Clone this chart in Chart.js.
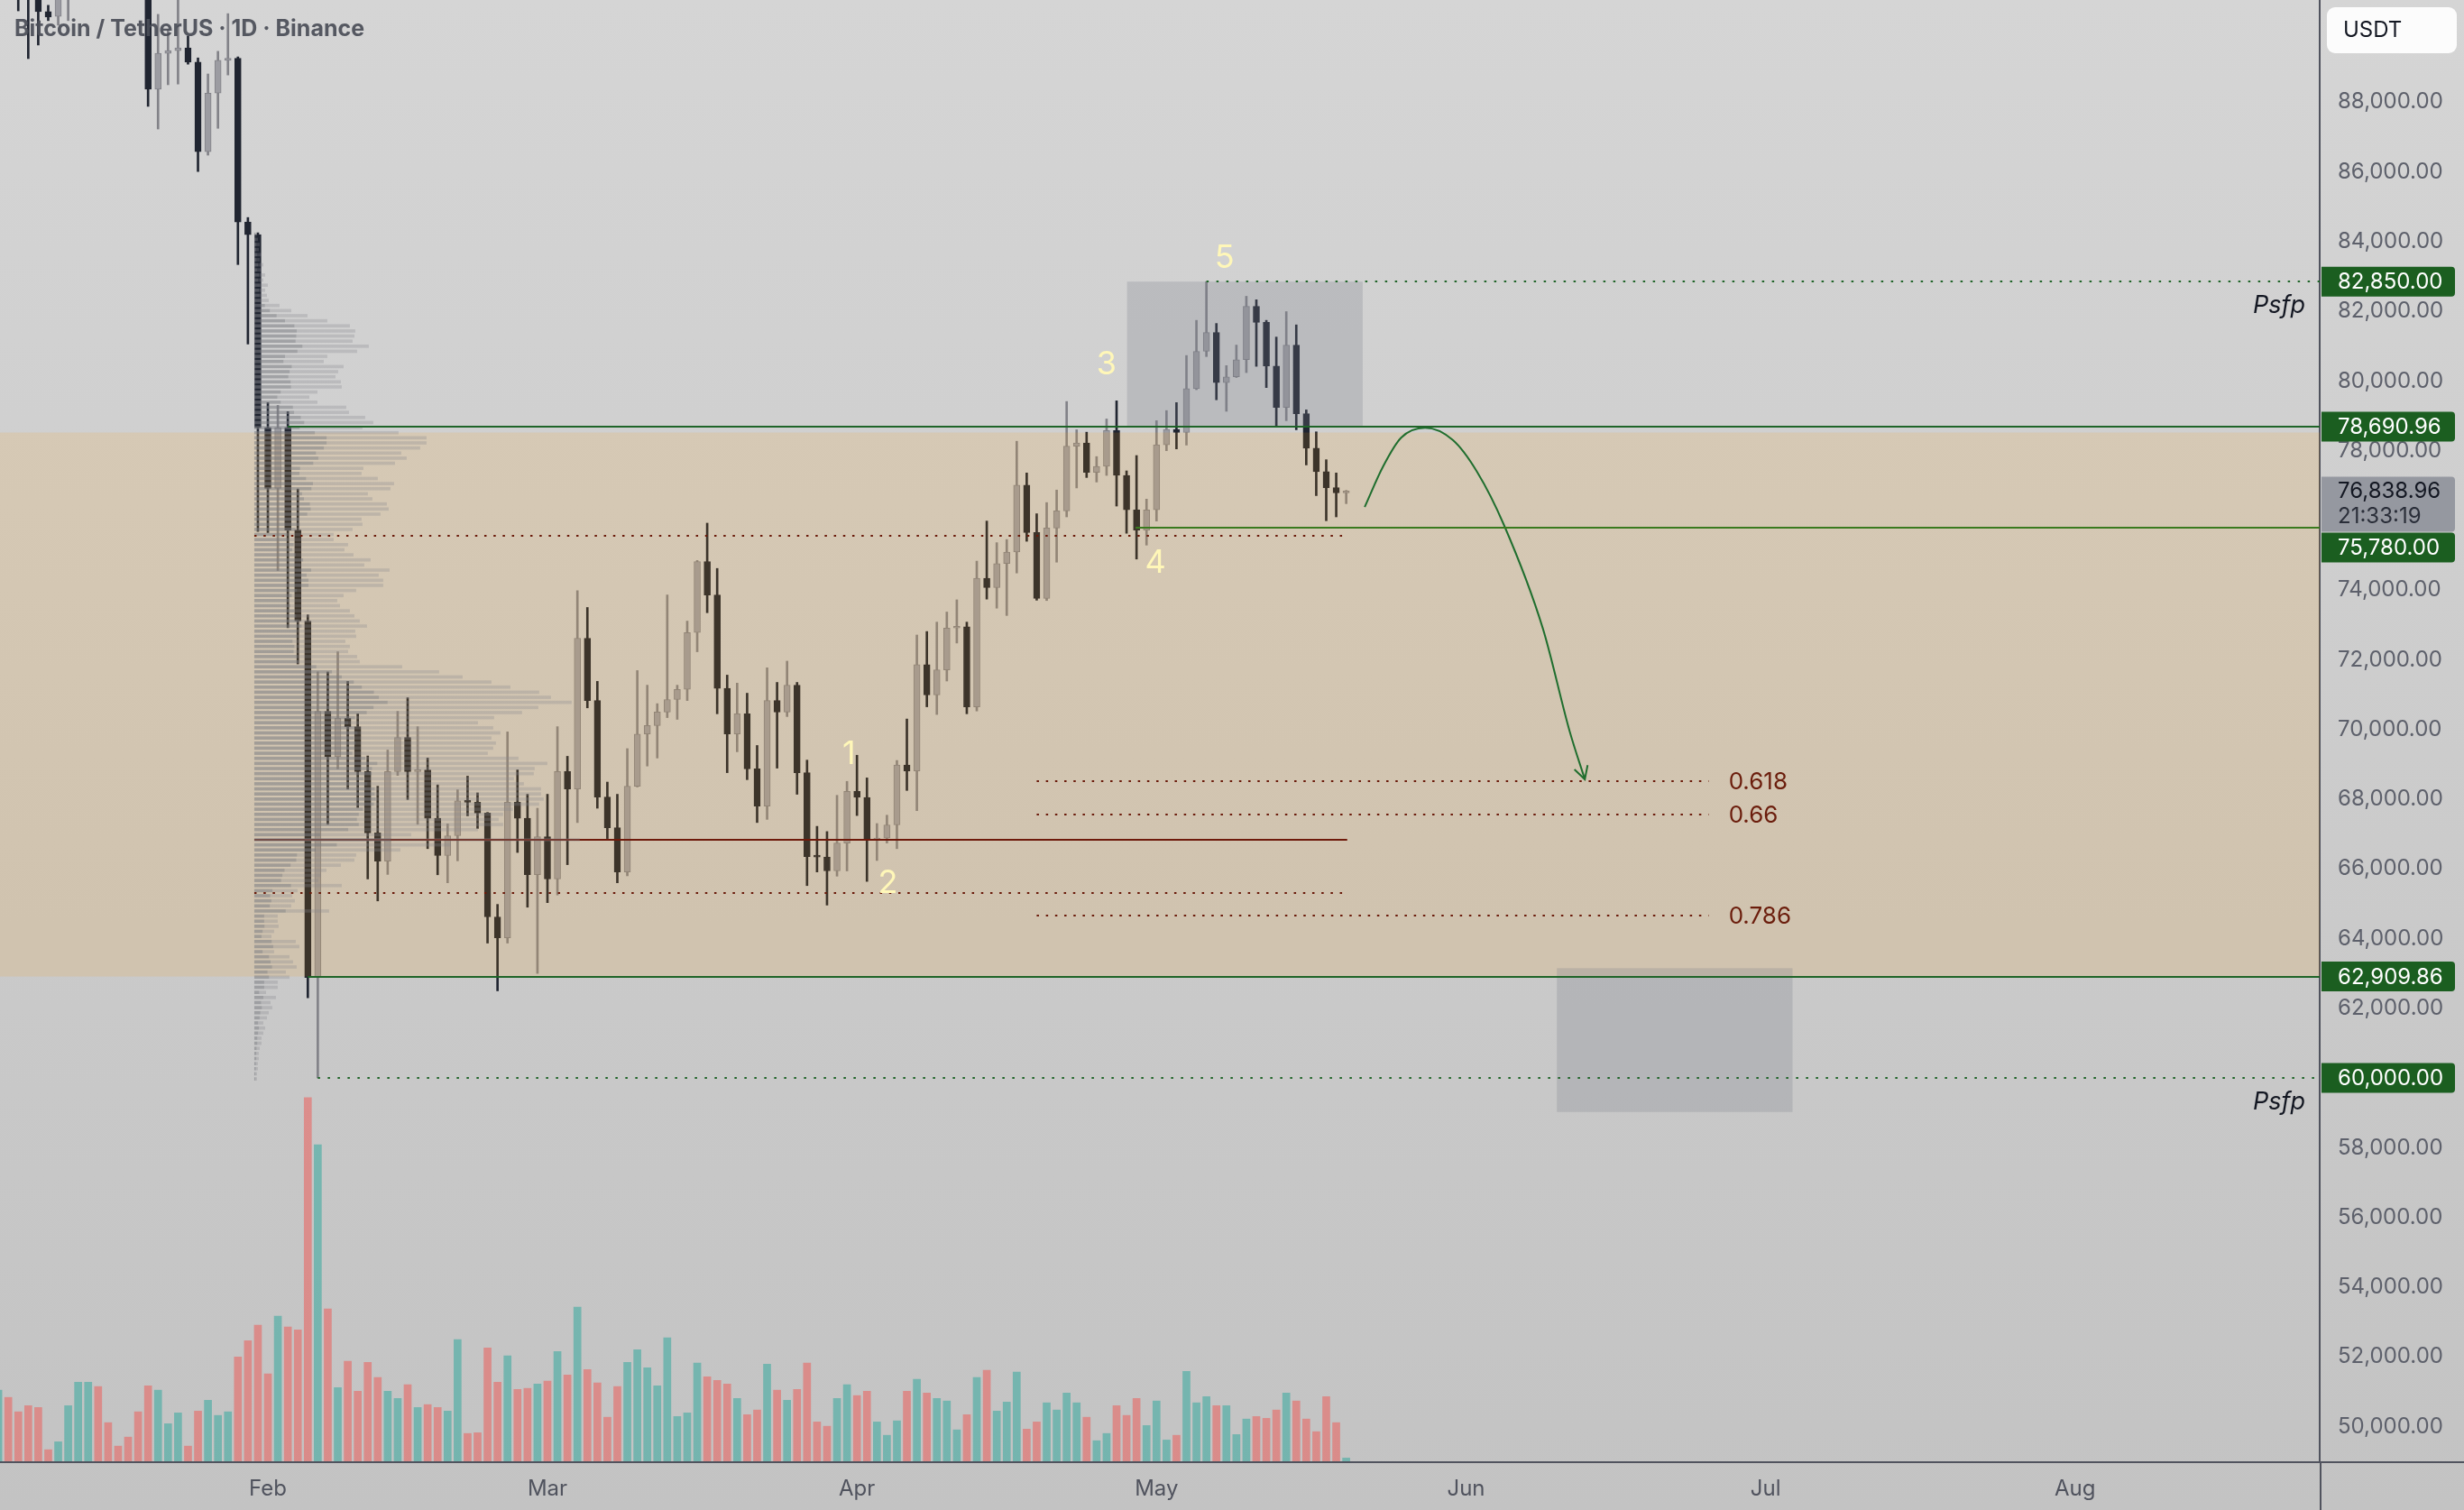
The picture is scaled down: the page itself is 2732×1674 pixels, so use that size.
<!DOCTYPE html>
<html>
<head>
<meta charset="utf-8">
<title>BTCUSDT 1D</title>
<script src="https://cdn.jsdelivr.net/npm/chart.js@4.4.1/dist/chart.umd.min.js"></script>
<style>
  html, body { margin: 0; padding: 0; background: #cccccc; }
  canvas { display: block; }
</style>
</head>
<body>
<canvas id="chart" width="2732" height="1674"></canvas>
<script>
// daily candles Jan 5 -> May 20, x = days counted from Feb 1
const firstDay = -27;

const open = [
  92000,93300,92400,91300,91000,90600,90460,91200,92000,94500,96800,95600,95400,95100,93600,92500,88370,89400,89480,89560,89150,86580,88260,89200,89260,84560,84200,
  78660,76920,78660,75720,73110,62880,70520,69220,70320,70080,68790,67030,66220,68790,69770,68790,68840,67450,66380,66950,67950,67910,67600,64620,64020,67910,67450,65830,
  66920,65710,68790,68290,72620,70830,68060,67180,65910,68370,69870,70110,70500,70860,71150,72780,74820,73860,71180,69870,70450,68870,67800,70830,70500,71270,68760,66380,66340,65940,66740,
  68220,68050,66830,66880,67260,68980,68810,71860,70990,71710,72910,72950,70650,74340,74070,74760,75090,77010,75650,73760,75780,76270,78130,78220,77380,77550,78580,77290,76300,75720,
  76300,78170,78610,78520,79780,80850,81390,79950,80120,80610,82140,81680,80430,79240,81030,79060,78070,77400,76940,76790
];
const high = [
  94000,94300,93200,91600,91400,90780,91500,92500,94800,97000,97800,96500,95900,95400,93900,92800,90520,90080,91200,89900,89270,88810,89460,90540,89300,84690,84250,
  79380,79300,79120,76900,73290,71650,71650,72230,71380,70450,69240,68370,69410,70520,70910,70080,69180,68410,67290,68270,68660,68180,67620,64980,69930,68840,68140,67740,
  68140,70080,69230,73980,73500,71380,68490,68140,69450,71690,71270,70740,73860,71270,73110,74850,75920,74620,71560,71330,71040,69540,71770,71350,71960,71350,69120,67220,67070,68110,68510,
  69260,68610,67300,67540,69110,70300,72710,72810,73080,73370,73720,73080,74830,75980,75360,75450,78270,77360,76190,76510,76870,79410,78600,78530,77830,78910,79430,77420,77860,76610,
  78860,79150,79380,80730,81740,82850,81650,80440,81030,82430,82330,81740,81260,81990,81610,79170,78540,77740,77360,76860
];
const low = [
  91500,91700,90620,89250,89640,90340,90210,90340,91500,94200,95000,94600,94800,93500,91800,87880,87230,88500,88520,89090,86010,86480,87250,88780,83340,81060,75680,
  75650,74560,72920,71880,62300,60000,67280,68870,68290,67760,65710,65080,65840,68680,67990,67280,66580,65830,65600,66230,67520,67160,63870,62500,63870,66470,64900,63000,
  65030,65250,66120,67330,70620,67740,66870,65600,65800,68350,68950,69180,70340,70290,70830,72230,73350,70450,68760,69360,68560,67330,67420,68890,70370,68140,65520,65910,64960,65790,65940,
  67530,65640,66240,66740,66580,68250,67670,70650,70430,71390,72480,70450,70530,73740,73480,73270,74490,75400,73710,73700,74800,76100,76930,77230,77100,77290,76410,75630,74890,75290,
  75980,78000,78050,78160,79750,80700,79460,79130,80100,80240,80420,79810,78710,78860,78600,77590,76710,75990,76100,76480
];
const close = [
  93300,92400,91300,91000,90600,90440,91200,92000,94500,96800,95600,95400,95100,93600,92500,88370,89400,89480,89560,89150,86580,88260,89200,89260,84560,84200,78660,
  76920,78660,75720,73110,62880,70520,69220,70320,70080,68790,67030,66220,68790,69770,68790,68840,67450,66380,66950,67950,67910,67600,64620,64020,67910,67450,65830,66920,
  65710,68790,68290,72620,70830,68060,67180,65910,68370,69870,70110,70500,70860,71150,72780,74820,73860,71180,69870,70450,68870,67800,70830,70500,71270,68760,66350,66340,65940,66740,68220,
  68050,66830,66880,67260,68980,68810,71860,70990,71710,72910,72950,70650,74340,74070,74760,75090,77010,75650,73760,75780,76270,78130,78220,77380,77550,78580,77290,76300,75720,76300,
  78170,78610,78520,79780,80850,81390,79950,80120,80610,82140,81680,80430,79240,81030,79060,78070,77400,76940,76790,76838.96
];
// volume, thousand BTC
const volume = [
  19.7,17.7,13.7,15.4,14.9,3.2,5.4,15.4,21.9,21.9,20.7,10.7,4.2,6.7,13.7,20.9,19.7,10.4,13.4,4.2,13.9,16.9,12.7,13.7,28.9,33.4,37.7,
  24.2,40.2,37.2,36.4,100.7,87.7,42.2,20.4,27.7,19.4,27.4,23.2,19.4,17.4,21.2,14.9,15.7,14.9,13.9,33.7,7.7,7.9,31.4,21.9,29.2,19.9,20.2,21.4,
  22.2,30.4,23.9,42.7,25.4,21.7,12.2,20.7,27.4,30.9,25.9,20.9,34.2,12.4,13.4,27.2,23.4,22.4,21.4,17.4,12.9,14.2,26.9,19.7,16.9,19.9,27.2,10.9,9.7,17.4,21.2,
  18.2,19.4,10.9,7.2,11.2,19.4,22.7,18.9,17.4,16.7,8.7,12.9,23.2,25.2,13.9,16.4,24.7,8.9,10.9,16.2,14.2,18.9,16.2,12.2,5.7,7.7,15.4,12.7,17.4,9.9,
  16.7,5.9,7.2,24.9,16.2,17.9,15.4,15.4,7.4,11.7,12.4,11.9,14.2,18.9,16.7,11.7,8.2,17.9,10.7,0.9
];

const monthTicks = [0, 28, 59, 89, 120, 150, 181];
const monthLabels = ['Feb', 'Mar', 'Apr', 'May', 'Jun', 'Jul', 'Aug'];
const priceTicks = [50000,52000,54000,56000,58000,62000,64000,66000,68000,70000,72000,74000,78000,80000,82000,84000,86000,88000];

// visible range volume profile, rows from 59,900 up, 146 USDT each
const profileLow = 59900;
const profileStep = 146;
const profileStartDay = -1.36;
const profileWidthDays = 32.6;
const profileVol = [
  3,3,4,4,5,5,6,8,8,10,12,10,14,16,20,18,24,
  13,26,26,39,35,47,43,39,22,50,46,19,22,27,26,26,83,41,45,42,
  48,97,71,74,80,96,111,113,162,218,361,174,248,276,271,276,287,316,321,318,
  318,299,288,310,311,325,293,259,265,268,263,273,265,248,266,297,315,352,329,316,
  284,263,231,205,164,117,114,104,106,101,113,112,125,117,111,106,95,92,99,113,
  143,143,138,150,122,129,110,100,104,88,88,109,120,119,140,149,147,131,126,151,
  155,137,119,121,156,169,163,184,191,191,160,120,132,123,105,102,70,61,70,97,
  96,90,93,99,77,81,114,127,109,111,112,106,81,59,41,28,16,
  14,12,15,10,12,8,10,6,8,5,6,4,3
];
const pocPrice = 66830;
const valueAreaHigh = 75554;
const valueAreaLow = 65299;
const profileEndDay = 108.1;

// drawings
const zoneHigh = 78520;
const zoneLow = 62909.86;
const greenLevels = [78690.96, 75780, 62909.86];
const greenFromDay = [2, 86.9, 4];
const psfpLevels = [82850, 60000];
const psfpFromDay = [94, 5];
const fibRatios = ['0.618', '0.66', '0.786'];
const fibPrices = [68520, 67560, 64660];
const waveLabels = ['1', '2', '3', '4', '5'];
const waveDays = [58.2, 62.1, 84.0, 88.9, 95.8];
const wavePrices = [69280, 65576, 80468, 74770, 83525];
const arrowDays = [109.85, 111.7, 113.5, 115.9, 118.7, 121.1, 123.8, 127.7, 130.4, 131.9];
const arrowPrices = [76384, 77549, 78370, 78655, 78298, 77394, 75868, 72895, 69927, 68568];
const boxTop = [86.05, 109.65, 82850, 78690];
const boxLow = [129.1, 152.7, 63150, 59023];
const lastTime = '21:33:19';

const days = open.map((v, i) => firstDay + i);
const isUp = i => close[i] >= open[i];
const FONT = "Inter, 'Noto Sans', sans-serif";

const upBody = '#9c9ca2', upLine = '#828288';
const downBody = '#202531';
const upVol = 'rgba(38,166,154,0.5)', downVol = 'rgba(239,83,80,0.5)';

function money(v) {
  return v.toLocaleString('en-US', { minimumFractionDigits: 2, maximumFractionDigits: 2 });
}

function hline(chart, price, d0, color, width, dash, d1) {
  const ctx = chart.ctx, xs = chart.scales.x, ys = chart.scales.y;
  const y = Math.round(ys.getPixelForValue(price));
  const x0 = xs.getPixelForValue(d0);
  const x1 = d1 === undefined ? chart.chartArea.right : xs.getPixelForValue(d1);
  ctx.save();
  ctx.strokeStyle = color;
  ctx.lineWidth = width;
  ctx.setLineDash(dash || []);
  ctx.beginPath();
  ctx.moveTo(x0, y);
  ctx.lineTo(x1, y);
  ctx.stroke();
  ctx.restore();
}

function box(chart, b, fill) {
  const xs = chart.scales.x, ys = chart.scales.y;
  const x0 = xs.getPixelForValue(b[0]), x1 = xs.getPixelForValue(b[1]);
  const y0 = ys.getPixelForValue(b[2]), y1 = ys.getPixelForValue(b[3]);
  chart.ctx.fillStyle = fill;
  chart.ctx.fillRect(x0, y0, x1 - x0, y1 - y0);
}

function roundBox(ctx, x, y, w, h, r, fill) {
  ctx.beginPath();
  ctx.moveTo(x, y);
  ctx.lineTo(x + w - r, y);
  ctx.quadraticCurveTo(x + w, y, x + w, y + r);
  ctx.lineTo(x + w, y + h - r);
  ctx.quadraticCurveTo(x + w, y + h, x + w - r, y + h);
  ctx.lineTo(x, y + h);
  ctx.closePath();
  ctx.fillStyle = fill;
  ctx.fill();
}

const overlays = {
  id: 'overlays',
  beforeDraw(chart) {
    const ctx = chart.ctx;
    const g = ctx.createLinearGradient(0, 0, 0, chart.height);
    g.addColorStop(0, '#d5d5d5');
    g.addColorStop(1, '#c3c3c3');
    ctx.save();
    ctx.fillStyle = g;
    ctx.fillRect(0, 0, chart.width, chart.height);
    ctx.restore();
  },
  afterDatasetDraw(chart, args) {
    if (args.index !== 1) return;
    const ctx = chart.ctx, xs = chart.scales.x, ys = chart.scales.y, area = chart.chartArea;
    ctx.save();
    ctx.beginPath();
    ctx.rect(area.left, area.top, area.right - area.left, area.bottom - area.top);
    ctx.clip();
    // zone
    const zt = ys.getPixelForValue(zoneHigh), zb = ys.getPixelForValue(zoneLow);
    ctx.fillStyle = 'rgba(255,152,0,0.13)';
    ctx.fillRect(area.left, zt, area.right - area.left, zb - zt);
    box(chart, boxTop, 'rgba(120,123,134,0.25)');
    box(chart, boxLow, 'rgba(120,123,134,0.25)');
    // point of control under the profile
    hline(chart, pocPrice, profileStartDay, '#6e1a0b', 2, [], profileEndDay);
    // volume profile rows
    const maxVol = Math.max(...profileVol);
    const x0 = xs.getPixelForValue(profileStartDay);
    profileVol.forEach((v, i) => {
      const yTop = ys.getPixelForValue(profileLow + (i + 1) * profileStep);
      const yBot = ys.getPixelForValue(profileLow + i * profileStep);
      const x1 = xs.getPixelForValue(profileStartDay + v / maxVol * profileWidthDays);
      const h = Math.max(1, yBot - yTop - 2);
      const split = x0 + (x1 - x0) * 0.42;
      ctx.fillStyle = 'rgba(122,124,130,0.55)';
      ctx.fillRect(x0, yTop + 1, split - x0, h);
      ctx.fillStyle = 'rgba(135,137,143,0.3)';
      ctx.fillRect(split, yTop + 1, x1 - split, h);
    });
    ctx.restore();
  },
  afterDatasetsDraw(chart) {
    const ctx = chart.ctx, xs = chart.scales.x, ys = chart.scales.y, area = chart.chartArea;
    const redDots = [2.5, 7.7], greenDots = [2.5, 8.5];
    hline(chart, valueAreaHigh, profileStartDay, '#6a1a0a', 2, redDots, profileEndDay);
    hline(chart, valueAreaLow, profileStartDay, '#6a1a0a', 2, redDots, profileEndDay);
    fibPrices.forEach(p => hline(chart, p, 77.0, '#6a1a0a', 2, redDots, 144.3));
    greenLevels.forEach((p, i) => hline(chart, p, greenFromDay[i], i === 1 ? '#3a7a1e' : '#1f6428', 2));
    psfpLevels.forEach((p, i) => hline(chart, p, psfpFromDay[i], '#1f6428', 2, greenDots));

    ctx.save();
    // fib ratio labels
    ctx.font = `26px ${FONT}`;
    ctx.fillStyle = '#6b1d0c';
    ctx.textBaseline = 'middle';
    ctx.textAlign = 'left';
    fibRatios.forEach((t, i) => ctx.fillText(t, xs.getPixelForValue(146.3), ys.getPixelForValue(fibPrices[i]) + 1));
    // wave count
    ctx.font = `36px ${FONT}`;
    ctx.fillStyle = '#fff7b8';
    ctx.textAlign = 'center';
    waveLabels.forEach((t, i) => ctx.fillText(t, xs.getPixelForValue(waveDays[i]), ys.getPixelForValue(wavePrices[i])));
    // Psfp tags
    ctx.font = `italic 27px ${FONT}`;
    ctx.fillStyle = '#131722';
    ctx.textAlign = 'right';
    psfpLevels.forEach(p => ctx.fillText('Psfp', area.right - 16, ys.getPixelForValue(p) + 27));
    // arrow head
    const n = arrowDays.length;
    const tx = xs.getPixelForValue(arrowDays[n - 1]), ty = ys.getPixelForValue(arrowPrices[n - 1]);
    const px = xs.getPixelForValue(arrowDays[n - 2]), py = ys.getPixelForValue(arrowPrices[n - 2]);
    const ang = Math.atan2(ty - py, tx - px);
    ctx.strokeStyle = '#1f6e2e';
    ctx.lineWidth = 2;
    ctx.beginPath();
    ctx.moveTo(tx - 16 * Math.cos(ang - 0.5), ty - 16 * Math.sin(ang - 0.5));
    ctx.lineTo(tx, ty);
    ctx.lineTo(tx - 16 * Math.cos(ang + 0.5), ty - 16 * Math.sin(ang + 0.5));
    ctx.stroke();
    ctx.restore();
  },
  afterDraw(chart) {
    const ctx = chart.ctx, ys = chart.scales.y, area = chart.chartArea;
    ctx.save();
    // axis frame
    ctx.strokeStyle = '#50535e';
    ctx.lineWidth = 2;
    ctx.beginPath();
    ctx.moveTo(0, area.bottom + 1);
    ctx.lineTo(chart.width, area.bottom + 1);
    ctx.moveTo(area.right + 1, area.bottom);
    ctx.lineTo(area.right + 1, chart.height);
    ctx.stroke();
    // last price tag
    ctx.font = `24px ${FONT}`;
    ctx.textBaseline = 'middle';
    ctx.textAlign = 'left';
    const last = close[close.length - 1];
    const ly = ys.getPixelForValue(last);
    const lastTop = ly - 16, lastBottom = ly + 45;
    roundBox(ctx, area.right + 2, lastTop, 148, lastBottom - lastTop, 4, '#9598a0');
    ctx.fillStyle = '#131722';
    ctx.fillText(money(last), area.right + 20, ly);
    ctx.fillStyle = '#2a2e39';
    ctx.fillText(lastTime, area.right + 20, ly + 28);
    // level tags, pushed below the last price tag when they collide
    const tags = [psfpLevels[0], greenLevels[0], greenLevels[1], greenLevels[2], psfpLevels[1]];
    tags.forEach(p => {
      let y = ys.getPixelForValue(p);
      if (y + 16.5 > lastTop && y - 16.5 < lastBottom) y = lastBottom + 1 + 16.5;
      roundBox(ctx, area.right + 2, y - 16.5, 148, 33, 4, '#1b5e20');
      ctx.fillStyle = '#ffffff';
      ctx.fillText(money(p), area.right + 20, y + 1);
    });
    // currency button
    ctx.beginPath();
    ctx.roundRect ? ctx.roundRect(2580, 8, 144, 51, 9) : ctx.rect(2580, 8, 144, 51);
    ctx.fillStyle = 'rgba(255,255,255,0.93)';
    ctx.fill();
    ctx.fillStyle = '#131722';
    ctx.fillText('USDT', 2598, 34);
    // symbol title
    ctx.font = `bold 25px ${FONT}`;
    ctx.fillStyle = 'rgba(74,77,87,0.92)';
    ctx.fillText('Bitcoin / TetherUS \u00b7 1D \u00b7 Binance', 16, 32);
    ctx.restore();
  }
};

new Chart(document.getElementById('chart'), {
  type: 'bar',
  data: {
    datasets: [
      {
        label: 'wicks',
        order: 4,
        data: days.map((d, i) => ({ x: d, y: [low[i], high[i]] })),
        backgroundColor: c => isUp(c.dataIndex) ? upLine : downBody,
        barThickness: 2,
        grouped: false,
        yAxisID: 'y'
      },
      {
        label: 'bodies',
        order: 3,
        data: days.map((d, i) => ({ x: d, y: [open[i], close[i]] })),
        backgroundColor: c => isUp(c.dataIndex) ? upBody : downBody,
        borderColor: c => isUp(c.dataIndex) ? upLine : downBody,
        borderWidth: 1,
        borderSkipped: false,
        minBarLength: 2,
        barThickness: 7,
        grouped: false,
        yAxisID: 'y'
      },
      {
        label: 'volume',
        order: 2,
        data: days.map((d, i) => ({ x: d, y: volume[i] })),
        backgroundColor: c => isUp(c.dataIndex) ? upVol : downVol,
        barThickness: 8,
        grouped: false,
        yAxisID: 'vol'
      },
      {
        label: 'path',
        type: 'line',
        order: 1,
        data: arrowDays.map((d, i) => ({ x: d, y: arrowPrices[i] })),
        borderColor: '#1f6e2e',
        borderWidth: 2,
        pointRadius: 0,
        cubicInterpolationMode: 'monotone',
        yAxisID: 'y'
      }
    ]
  },
  options: {
    responsive: false,
    animation: false,
    devicePixelRatio: 1,
    layout: { padding: 0 },
    plugins: { legend: { display: false }, tooltip: { enabled: false } },
    scales: {
      x: {
        type: 'linear',
        min: -26.83,
        max: 205.5,
        offset: false,
        grid: { display: false, drawTicks: false },
        border: { display: false },
        afterBuildTicks: s => { s.ticks = monthTicks.map(v => ({ value: v })); },
        afterFit: s => { s.height = 54; s.paddingLeft = 0; s.paddingRight = 0; },
        ticks: {
          autoSkip: false,
          maxRotation: 0,
          padding: 16,
          color: '#50535e',
          font: { family: FONT, size: 24 },
          callback: v => monthLabels[monthTicks.indexOf(v)] || ''
        }
      },
      y: {
        position: 'right',
        min: 49000,
        max: 90932,
        grid: { display: false, drawTicks: false },
        border: { display: true, color: '#50535e', width: 2 },
        afterBuildTicks: s => { s.ticks = priceTicks.map(v => ({ value: v })); },
        afterFit: s => { s.width = 160; s.paddingTop = 0; s.paddingBottom = 0; },
        ticks: {
          padding: 20,
          color: '#5d606b',
          font: { family: FONT, size: 24 },
          callback: v => money(v)
        }
      },
      vol: {
        display: false,
        min: 0,
        max: 404.75,
        afterFit: s => { s.paddingTop = 0; s.paddingBottom = 0; }
      }
    }
  },
  plugins: [overlays]
});
</script>
</body>
</html>
